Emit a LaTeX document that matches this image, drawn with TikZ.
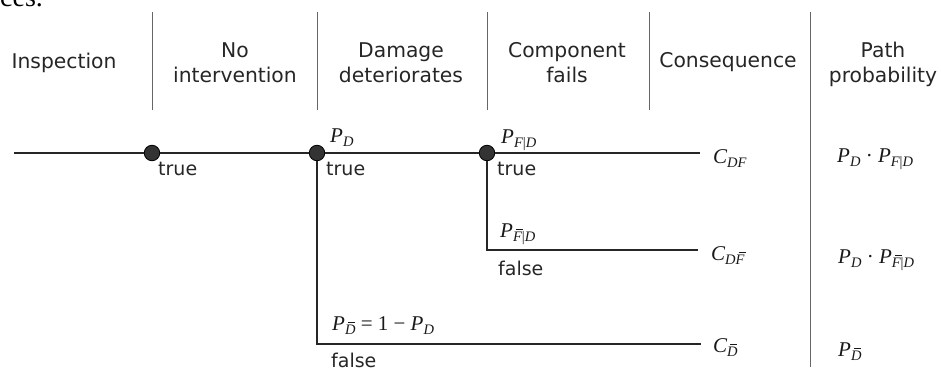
\documentclass[tikz,border=0pt]{standalone}
\usepackage{fontspec}
\setmainfont{DejaVu Sans}
\newfontfamily\pageserif{Liberation Serif}
\newfontfamily\mf{Liberation Serif}
\newcommand{\sbs}[1]{\raisebox{-0.2em}{\fontsize{14.5}{16}\selectfont #1}}
\newcommand{\up}[1]{{\upshape #1}}
\newcommand{\ob}[1]{\rlap{\hspace{0.2em}\rule[0.76em]{0.5em}{0.06em}}#1}
\begin{document}
\begin{tikzpicture}[x=1pt,y=-1pt,
  sepline/.style={draw=black!60, line width=0.9pt},
  branch/.style={draw=black!85, line width=1.3pt},
  dot/.style={circle, fill=black!80, draw=black, line width=0.8pt, minimum size=15.5pt, inner sep=0pt},
  head/.style={font=\fontsize{20.3}{24}\selectfont, anchor=base, inner sep=0pt, text=black!85},
  lbl/.style={font=\fontsize{19}{22}\selectfont, anchor=base west, inner sep=0pt, text=black!85},
  mth/.style={font=\mf\itshape\fontsize{21}{24}\selectfont, anchor=base west, inner sep=0pt, text=black!90}
]
\useasboundingbox (0,0) rectangle (941,369);
\clip (0,0) rectangle (941,369);

% fragment of page text above
\node[anchor=base west, inner sep=0pt, font=\pageserif\fontsize{28}{32}\selectfont] (frag) at (0,7) {ces.};

% column separators
\draw[sepline] (152,12) -- (152,110);
\draw[sepline] (317,12) -- (317,110);
\draw[sepline] (487,12) -- (487,110);
\draw[sepline] (649,12) -- (649,110);
\draw[sepline] (810,12) -- (810,367);

% headers
\node[head] (h1) at (64,68) {Inspection};
\node[head] (h2a) at (235,57) {No};
\node[head] (h2b) at (235,82) {intervention};
\node[head] (h3a) at (401,57) {Damage};
\node[head] (h3b) at (401,82) {deteriorates};
\node[head] (h4a) at (567,57) {Component};
\node[head] (h4b) at (567,82) {fails};
\node[head] (h5) at (728,67) {Consequence};
\node[head] (h6a) at (883,57) {Path};
\node[head] (h6b) at (883,82) {probability};

% tree
\coordinate (start) at (14,153);
\node[dot] (n1) at (152,153) {};
\node[dot] (n2) at (317,153) {};
\node[dot] (n3) at (487,153) {};
\coordinate (eDF) at (700,153);
\coordinate (eDFb) at (698,250);
\coordinate (eDb) at (701,344);

\draw[branch] (start) -- (n1);
\draw[branch] (n1) -- (n2);
\draw[branch] (n2) -- (n3);
\draw[branch] (n3) -- (eDF);
\draw[branch] (n3) |- (eDFb);
\draw[branch] (n2) |- (eDb);

% branch labels
\node[lbl] (t1) at (158,175) {true};
\node[lbl] (t2) at (326,175) {true};
\node[lbl] (t3) at (497,175) {true};
\node[lbl] (f1) at (498,275) {false};
\node[lbl] (f2) at (331,367) {false};

\node[mth] (pD) at (330,142) {P\sbs{D}};
\node[mth] (pFD) at (501,143) {P\sbs{F\up{|}D}};
\node[mth] (pFbD) at (500,237) {P\sbs{\ob{F}\up{|}D}};
\node[mth] (pDb) at (332,330) {P\sbs{\ob{D}}\up{ = 1 − }P\sbs{D}};

% consequences
\node[mth] (cDF) at (713,163) {C\sbs{DF}};
\node[mth] (cDFb) at (711,260) {C\sbs{D\ob{F}}};
\node[mth] (cDb) at (713,352) {C\sbs{\ob{D}}};

% path probabilities
\node[mth] (pp1) at (837,162) {P\sbs{D}\up{ · }P\sbs{F\up{|}D}};
\node[mth] (pp2) at (838,263) {P\sbs{D}\up{ · }P\sbs{\ob{F}\up{|}D}};
\node[mth] (pp3) at (838,356) {P\sbs{\ob{D}}};
\end{tikzpicture}
\end{document}
